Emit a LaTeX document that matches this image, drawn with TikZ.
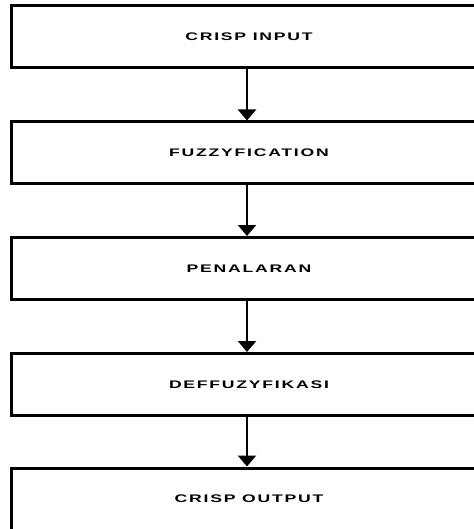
\documentclass[tikz,border=0pt]{standalone}
\usepackage{fontspec}
\setmainfont{Liberation Sans}
\newfontfamily\boxfont[LetterSpace=10]{Liberation Sans}
\usetikzlibrary{arrows.meta}
\tikzset{
  stagebox/.style={draw, line width=3pt, rectangle, minimum width=476pt, minimum height=62pt, inner sep=0pt,
    font=\boxfont\bfseries\fontsize{11pt}{13pt}\selectfont},
  flowarrow/.style={line width=2.6pt, -{Triangle[width=18pt,length=11pt]}}
}
\newcommand{\lbl}[1]{\scalebox{1.6}[1]{#1}}
\begin{document}
\begin{tikzpicture}[x=1pt,y=-1pt]
\useasboundingbox (0,0) rectangle (473,529);
\fill[white] (0,0) rectangle (473,529);
\node[stagebox] (a) at (249,37) {\lbl{CRISP INPUT}};
\node[stagebox] (b) at (249,153) {\lbl{FUZZYFICATION}};
\node[stagebox] (c) at (249,268.5) {\lbl{PENALARAN}};
\node[stagebox] (d) at (249,384.5) {\lbl{DEFFUZYFIKASI}};
\node[stagebox] (e) at (249,499) {\lbl{CRISP OUTPUT}};
\foreach \u/\v in {a/b, b/c, c/d, d/e}
  \draw[flowarrow] ([xshift=-2pt]\u.south) -- ([xshift=-2pt]\v.north);
\end{tikzpicture}
\end{document}
